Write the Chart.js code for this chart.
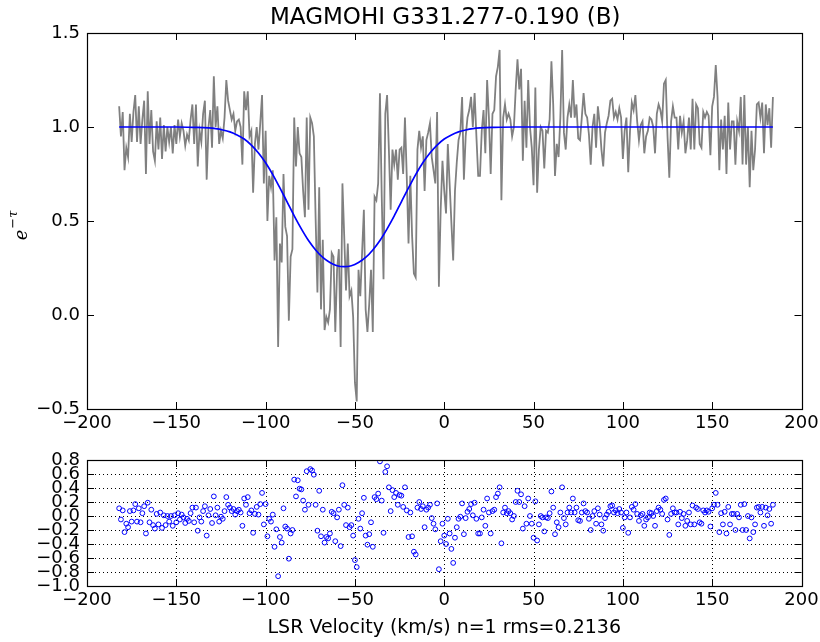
<!DOCTYPE html>
<html>
<head>
<meta charset="utf-8">
<script src="https://cdn.jsdelivr.net/npm/chart.js@4.4.0/dist/chart.umd.min.js"></script>
<style>
  html, body { margin: 0; padding: 0; background: #fff; }
  #wrap { position: relative; width: 820px; height: 642px; }
  #specChart { position: absolute; left: 0; top: 0; }
  #residChart { position: absolute; left: 0; top: 440px; }
</style>
</head>
<body>
<div id="wrap">
  <canvas id="specChart" width="820" height="440"></canvas>
  <canvas id="residChart" width="820" height="202"></canvas>
</div>
<script>
'use strict';

// channels are 1 km/s apart
const velStart = -182;
const velStep = 1;

// observed e^-tau, one value per channel (-182 .. 184 km/s)
const spectrum = [
  1.11, 0.95, 1.08, 0.77, 0.89, 0.84, 1.07, 0.92, 1.08, 1.17,
  0.92, 1.11, 0.91, 1.04, 1.14, 0.75, 1.19, 0.91, 1.09, 0.87,
  0.82, 1.03, 0.88, 1.05, 0.83, 1.01, 0.87, 1.00, 0.92, 1.00,
  0.86, 1.01, 0.91, 1.04, 0.95, 1.02, 0.98, 0.90, 0.96, 0.93,
  1.04, 1.12, 0.91, 1.12, 0.79, 0.98, 0.92, 1.07, 1.14, 0.72,
  1.00, 1.09, 0.89, 1.27, 1.00, 1.11, 0.91, 0.98, 0.94, 1.05,
  1.25, 1.14, 1.09, 1.04, 1.07, 0.98, 1.03, 1.04, 1.00, 0.80,
  1.19, 1.09, 1.19,
  0.95, 0.98, 0.65, 0.91, 1.00, 0.88, 1.02, 1.17, 0.70, 0.98,
  0.50, 0.74, 0.68, 0.77, 0.29, 0.52, -0.17, 0.38, 0.28, 0.75,
  0.47, 0.42, -0.03, 0.31, 0.35, 1.05, 0.79, 1.00, 0.86, 0.84,
  0.66, 0.52, 1.05, 0.56, 1.05, 1.02, 0.95, 0.51, 0.12, 0.68,
  0.03, 0.40, -0.08, -0.01, -0.04, 0.03, 0.33, 0.31, -0.09, 0.24,
  0.35, -0.17, 0.70, 0.42, 0.13, 0.38, 0.10, 0.13, -0.01, -0.36,
  -0.46, 0.24, 0.10, 0.33, 0.56, 0.03, -0.09, 0.06, 0.24, -0.09,
  0.63, 0.61, 0.70, 1.18,
  0.63, 0.19, 1.07, 1.17, 0.88, 0.56, 0.88, 0.80, 0.88, 0.72,
  0.88, 0.89, 0.75, 1.05, 0.74, 0.38, 0.74, 0.42, 0.22, 0.20,
  0.88, 0.98, 0.89, 0.95, 0.66, 0.93, 0.97, 1.02, 0.84, 0.77,
  0.70, 1.08, 0.15, 0.56, 0.82, 0.66, 0.54, 0.91, 0.70, 0.49,
  0.29, 0.66, 0.81, 0.93, 0.97, 1.16, 0.72, 0.95, 1.05, 1.09,
  1.16, 1.00, 1.18, 0.95, 0.74, 0.74, 0.98, 1.09, 0.86, 1.25,
  1.05, 0.75, 1.07, 1.09, 1.27, 1.32, 1.41, 0.61, 1.05, 1.12,
  1.04, 1.07,
  1.04, 0.95, 1.00, 1.20, 1.36, 1.20, 1.31, 0.82, 1.14, 0.89,
  1.25, 1.00, 0.89, 0.69, 1.21, 0.65, 0.88, 1.00, 0.98, 0.78,
  0.98, 0.97, 1.04, 1.35, 1.12, 0.74, 0.91, 0.84, 1.05, 1.41,
  0.97, 0.88, 1.05, 1.12, 1.05, 1.25, 1.05, 1.12, 0.94, 0.93,
  1.05, 1.18, 1.07, 1.05, 0.96, 0.80, 1.00, 1.07, 0.89, 1.11,
  1.02, 0.88, 0.79, 0.97, 1.02, 1.06, 1.14, 1.15, 1.05, 1.08,
  1.04, 1.10, 1.05, 0.83, 0.98, 1.05, 0.76, 0.98, 1.13, 1.09,
  1.17, 1.03, 0.93, 1.01, 1.03,
  0.86, 0.95, 0.98, 1.05, 1.04, 1.00, 0.86, 1.07, 1.12, 1.09,
  1.03, 1.23, 1.25, 0.95, 0.73, 1.03, 1.11, 1.05, 1.05, 0.88,
  1.06, 0.97, 1.03, 0.86, 0.93, 1.05, 0.88, 1.15, 0.88, 1.12,
  1.10, 0.91, 0.89, 1.08, 1.05, 1.08, 1.06, 0.85, 1.11, 1.16,
  1.33, 1.16, 0.77, 1.04, 0.88, 1.06, 0.75, 1.13, 0.88, 1.03,
  1.03, 0.80, 1.03, 0.98, 1.16, 0.80, 1.17, 0.80, 1.00, 0.68,
  0.98, 0.77, 0.88, 1.12, 1.13, 1.05, 1.13, 0.86, 1.12, 1.01,
  1.10, 0.89, 1.16
];

// gaussian fit
const fitVel = [-182, -160, -150, -140, -132, -128, -124, -120, -116, -112, -108, -104, -100,
  -96, -92, -88, -84, -80, -76, -72, -68, -64, -60, -56, -52, -48, -44, -40, -36, -32,
  -28, -24, -20, -16, -12, -8, -4, 0, 4, 8, 12, 16, 20, 28, 40, 184];
const fitVal = [1.000, 1.000, 1.000, 0.998, 0.995, 0.991, 0.984, 0.974, 0.958, 0.936, 0.904, 0.862, 0.810,
  0.747, 0.676, 0.602, 0.527, 0.458, 0.396, 0.346, 0.306, 0.279, 0.262, 0.257, 0.262, 0.279, 0.306, 0.346, 0.396, 0.458,
  0.527, 0.602, 0.676, 0.747, 0.810, 0.862, 0.904, 0.936, 0.958, 0.974, 0.984, 0.991, 0.995, 0.998, 1.000, 1.000];

// residuals, one per channel
const residual = [
  0.11, -0.05, 0.08, -0.23, -0.11, -0.16, 0.07, -0.08, 0.08, 0.17,
  -0.08, 0.11, -0.09, 0.04, 0.14, -0.25, 0.19, -0.09, 0.09, -0.13,
  -0.18, 0.03, -0.12, 0.05, -0.17, 0.01, -0.13, 0.00, -0.08, 0.00,
  -0.14, 0.01, -0.09, 0.04, -0.05, 0.02, -0.02, -0.10, -0.04, -0.07,
  0.04, 0.12, -0.09, 0.12, -0.21, -0.02, -0.08, 0.07, 0.14, -0.28,
  0.01, 0.10, -0.10, 0.28, 0.01, 0.12, -0.08, -0.01, -0.04, 0.07,
  0.27, 0.16, 0.12, 0.07, 0.10, 0.02, 0.07, 0.09, 0.05, -0.14,
  0.25, 0.16, 0.27,
  0.04, 0.08, -0.24, 0.03, 0.13, 0.02, 0.17, 0.33, -0.12, 0.17,
  -0.29, -0.04, -0.08, 0.02, -0.44, -0.19, -0.86, -0.30, -0.38, 0.11,
  -0.15, -0.18, -0.61, -0.25, -0.20, 0.52, 0.28, 0.51, 0.39, 0.38,
  0.22, 0.09, 0.64, 0.16, 0.67, 0.65, 0.59, 0.16, -0.21, 0.36,
  -0.29, 0.09, -0.38, -0.30, -0.32, -0.25, 0.06, 0.04, -0.36, -0.02,
  0.09, -0.43, 0.44, 0.16, -0.13, 0.12, -0.16, -0.13, -0.28, -0.63,
  -0.73, -0.04, -0.18, 0.04, 0.26, -0.28, -0.41, -0.26, -0.09, -0.44,
  0.27, 0.24, 0.32, 0.78,
  0.22, -0.24, 0.63, 0.71, 0.41, 0.07, 0.37, 0.27, 0.33, 0.16,
  0.30, 0.29, 0.13, 0.41, 0.08, -0.30, 0.05, -0.29, -0.51, -0.55,
  0.12, 0.20, 0.10, 0.14, -0.16, 0.09, 0.12, 0.16, -0.03, -0.11,
  -0.19, 0.18, -0.76, -0.36, -0.11, -0.28, -0.40, -0.04, -0.25, -0.47,
  -0.67, -0.31, -0.16, -0.04, -0.01, 0.18, -0.26, -0.03, 0.06, 0.10,
  0.17, 0.01, 0.19, -0.04, -0.25, -0.25, -0.02, 0.09, -0.14, 0.25,
  0.05, -0.25, 0.07, 0.09, 0.27, 0.32, 0.41, -0.39, 0.05, 0.12,
  0.04, 0.07,
  0.04, -0.05, 0.00, 0.20, 0.36, 0.20, 0.31, -0.18, 0.14, -0.11,
  0.25, 0.00, -0.11, -0.31, 0.21, -0.35, -0.12, 0.00, -0.02, -0.22,
  -0.02, -0.03, 0.04, 0.35, 0.12, -0.26, -0.09, -0.16, 0.05, 0.41,
  -0.03, -0.12, 0.05, 0.12, 0.05, 0.25, 0.05, 0.12, -0.06, -0.07,
  0.05, 0.18, 0.07, 0.05, -0.04, -0.20, 0.00, 0.07, -0.11, 0.11,
  0.02, -0.12, -0.21, -0.03, 0.02, 0.06, 0.14, 0.15, 0.05, 0.08,
  0.04, 0.10, 0.05, -0.17, -0.02, 0.05, -0.24, -0.02, 0.13, 0.09,
  0.17, 0.03, -0.07, 0.01, 0.03,
  -0.14, -0.05, -0.02, 0.05, 0.04, 0.00, -0.14, 0.07, 0.12, 0.09,
  0.03, 0.23, 0.25, -0.05, -0.27, 0.03, 0.11, 0.05, 0.05, -0.12,
  0.06, -0.03, 0.03, -0.14, -0.07, 0.05, -0.12, 0.15, -0.12, 0.12,
  0.10, -0.09, -0.11, 0.08, 0.05, 0.08, 0.06, -0.15, 0.11, 0.16,
  0.33, 0.16, -0.23, 0.04, -0.12, 0.06, -0.25, 0.13, -0.12, 0.03,
  0.03, -0.20, 0.03, -0.02, 0.16, -0.20, 0.17, -0.20, 0.00, -0.32,
  -0.02, -0.23, -0.12, 0.12, 0.13, 0.05, 0.13, -0.14, 0.12, 0.01,
  0.10, -0.11, 0.16
];

// tick labels
const xTicks = [-200, -150, -100, -50, 0, 50, 100, 150, 200];
const specTicks = [-0.5, 0.0, 0.5, 1.0, 1.5];
const residTicks = [-1.0, -0.8, -0.6, -0.4, -0.2, 0.0, 0.2, 0.4, 0.6, 0.8];

const titleText = 'MAGMOHI G331.277-0.190 (B)';
const xLabelText = 'LSR Velocity (km/s) n=1 rms=0.2136';

const FONT = "'DejaVu Sans', 'Bitstream Vera Sans', sans-serif";

function fmt(v, dec) {
  if (Math.abs(v) < 1e-9) v = 0;
  return v.toFixed(dec).replace('-', '\u2212');
}

function toPoints(values) {
  return values.map((y, i) => ({x: velStart + i * velStep, y: y}));
}

// frame, inward ticks on all four sides, optional dotted grid
const axesFrame = {
  id: 'axesFrame',
  beforeDatasetsDraw(chart, args, opts) {
    if (!opts.grid) return;
    const {ctx, chartArea: a, scales: {x, y}} = chart;
    ctx.save();
    ctx.strokeStyle = '#000';
    ctx.lineWidth = 1;
    ctx.setLineDash([1, 3]);
    ctx.beginPath();
    x.ticks.forEach(t => {
      const px = Math.round(x.getPixelForValue(t.value)) + 0.5;
      ctx.moveTo(px, a.top);
      ctx.lineTo(px, a.bottom);
    });
    y.ticks.forEach(t => {
      const py = Math.round(y.getPixelForValue(t.value)) + 0.5;
      ctx.moveTo(a.left, py);
      ctx.lineTo(a.right, py);
    });
    ctx.stroke();
    ctx.restore();
  },
  afterDatasetsDraw(chart, args, opts) {
    const {ctx, chartArea: a, scales: {x, y}} = chart;
    const len = opts.tickLen || 7;
    ctx.save();
    ctx.strokeStyle = '#000';
    ctx.lineWidth = 1;
    ctx.beginPath();
    x.ticks.forEach(t => {
      const px = Math.round(x.getPixelForValue(t.value)) + 0.5;
      ctx.moveTo(px, a.bottom);
      ctx.lineTo(px, a.bottom - len);
      ctx.moveTo(px, a.top);
      ctx.lineTo(px, a.top + len);
    });
    y.ticks.forEach(t => {
      const py = Math.round(y.getPixelForValue(t.value)) + 0.5;
      ctx.moveTo(a.left, py);
      ctx.lineTo(a.left + len, py);
      ctx.moveTo(a.right, py);
      ctx.lineTo(a.right - len, py);
    });
    ctx.stroke();
    ctx.lineWidth = 1.2;
    ctx.strokeRect(Math.round(a.left) + 0.5, Math.round(a.top) + 0.5,
      Math.round(a.right - a.left), Math.round(a.bottom - a.top));
    ctx.restore();
  }
};

// titles drawn as canvas text
const labels = {
  id: 'labels',
  afterDraw(chart, args, opts) {
    const {ctx, chartArea: a} = chart;
    const cx = (a.left + a.right) / 2;
    ctx.save();
    ctx.fillStyle = '#000';
    ctx.textAlign = 'center';
    ctx.textBaseline = 'middle';
    if (opts.title) {
      ctx.font = '23px ' + FONT;
      ctx.fillText(opts.title, cx + 1, 18);
    }
    if (opts.xlabel) {
      ctx.font = '19px ' + FONT;
      ctx.fillText(opts.xlabel, cx, opts.xlabelY);
    }
    if (opts.ylabel) {
      const cy = (a.top + a.bottom) / 2 + 5;
      ctx.translate(20, cy);
      ctx.rotate(-Math.PI / 2);
      ctx.textAlign = 'left';
      ctx.font = 'italic 18px "DejaVu Serif", serif';
      const w1 = ctx.measureText('e').width;
      ctx.font = 'italic 13px "DejaVu Serif", serif';
      const w2 = ctx.measureText('\u2212\u03c4').width;
      const x0 = -(w1 + w2) / 2;
      ctx.font = 'italic 18px "DejaVu Serif", serif';
      ctx.fillText('e', x0, 2);
      ctx.font = 'italic 13px "DejaVu Serif", serif';
      ctx.fillText('\u2212\u03c4', x0 + w1 + 1, -6);
    }
    ctx.restore();
  }
};

function xScale(height) {
  return {
    type: 'linear',
    min: -200,
    max: 200,
    afterBuildTicks: s => { s.ticks = xTicks.map(v => ({value: v})); },
    afterFit: s => {
      s.height = height;
      s.paddingLeft = 0;
      s.paddingRight = 0;
    },
    grid: {display: false, drawTicks: false},
    border: {display: false},
    ticks: {
      autoSkip: false,
      maxRotation: 0,
      padding: 4,
      color: '#000',
      font: {family: FONT, size: 18},
      callback: v => fmt(v, 0)
    }
  };
}

function yScale(min, max, tickList) {
  return {
    type: 'linear',
    min: min,
    max: max,
    afterBuildTicks: s => { s.ticks = tickList.map(v => ({value: v})); },
    afterFit: s => { s.width = 87; },
    grid: {display: false, drawTicks: false},
    border: {display: false},
    ticks: {
      autoSkip: false,
      padding: 7,
      color: '#000',
      font: {family: FONT, size: 18},
      callback: v => fmt(v, 1)
    }
  };
}

const baseOptions = {
  responsive: false,
  animation: false,
  events: [],
  plugins: {legend: {display: false}, tooltip: {enabled: false}}
};

new Chart(document.getElementById('specChart'), {
  type: 'line',
  data: {
    datasets: [
      {
        data: fitVel.map((v, i) => ({x: v, y: fitVal[i]})),
        borderColor: '#0000ff',
        borderWidth: 1.7,
        pointRadius: 0,
        cubicInterpolationMode: 'monotone',
        order: 0
      },
      {
        data: toPoints(spectrum),
        borderColor: '#808080',
        borderWidth: 1.8,
        pointRadius: 0,
        tension: 0,
        order: 1
      }
    ]
  },
  options: Object.assign({}, baseOptions, {
    layout: {padding: {top: 33, right: 18.5, left: 0, bottom: 0}},
    scales: {x: xScale(31), y: yScale(-0.5, 1.5, specTicks)},
    plugins: Object.assign({}, baseOptions.plugins, {
      axesFrame: {grid: false, tickLen: 7},
      labels: {title: titleText, ylabel: true}
    })
  }),
  plugins: [axesFrame, labels]
});

new Chart(document.getElementById('residChart'), {
  type: 'scatter',
  data: {
    datasets: [{
      data: toPoints(residual),
      borderColor: '#0000ff',
      backgroundColor: 'rgba(0,0,0,0)',
      borderWidth: 1,
      pointRadius: 2.4,
      pointStyle: 'circle'
    }]
  },
  options: Object.assign({}, baseOptions, {
    layout: {padding: {top: 20, right: 18.5, left: 0, bottom: 0}},
    scales: {x: xScale(56), y: yScale(-1.0, 0.8, residTicks)},
    plugins: Object.assign({}, baseOptions.plugins, {
      axesFrame: {grid: true, tickLen: 7},
      labels: {xlabel: xLabelText, xlabelY: 188}
    })
  }),
  plugins: [axesFrame, labels]
});
</script>
</body>
</html>
